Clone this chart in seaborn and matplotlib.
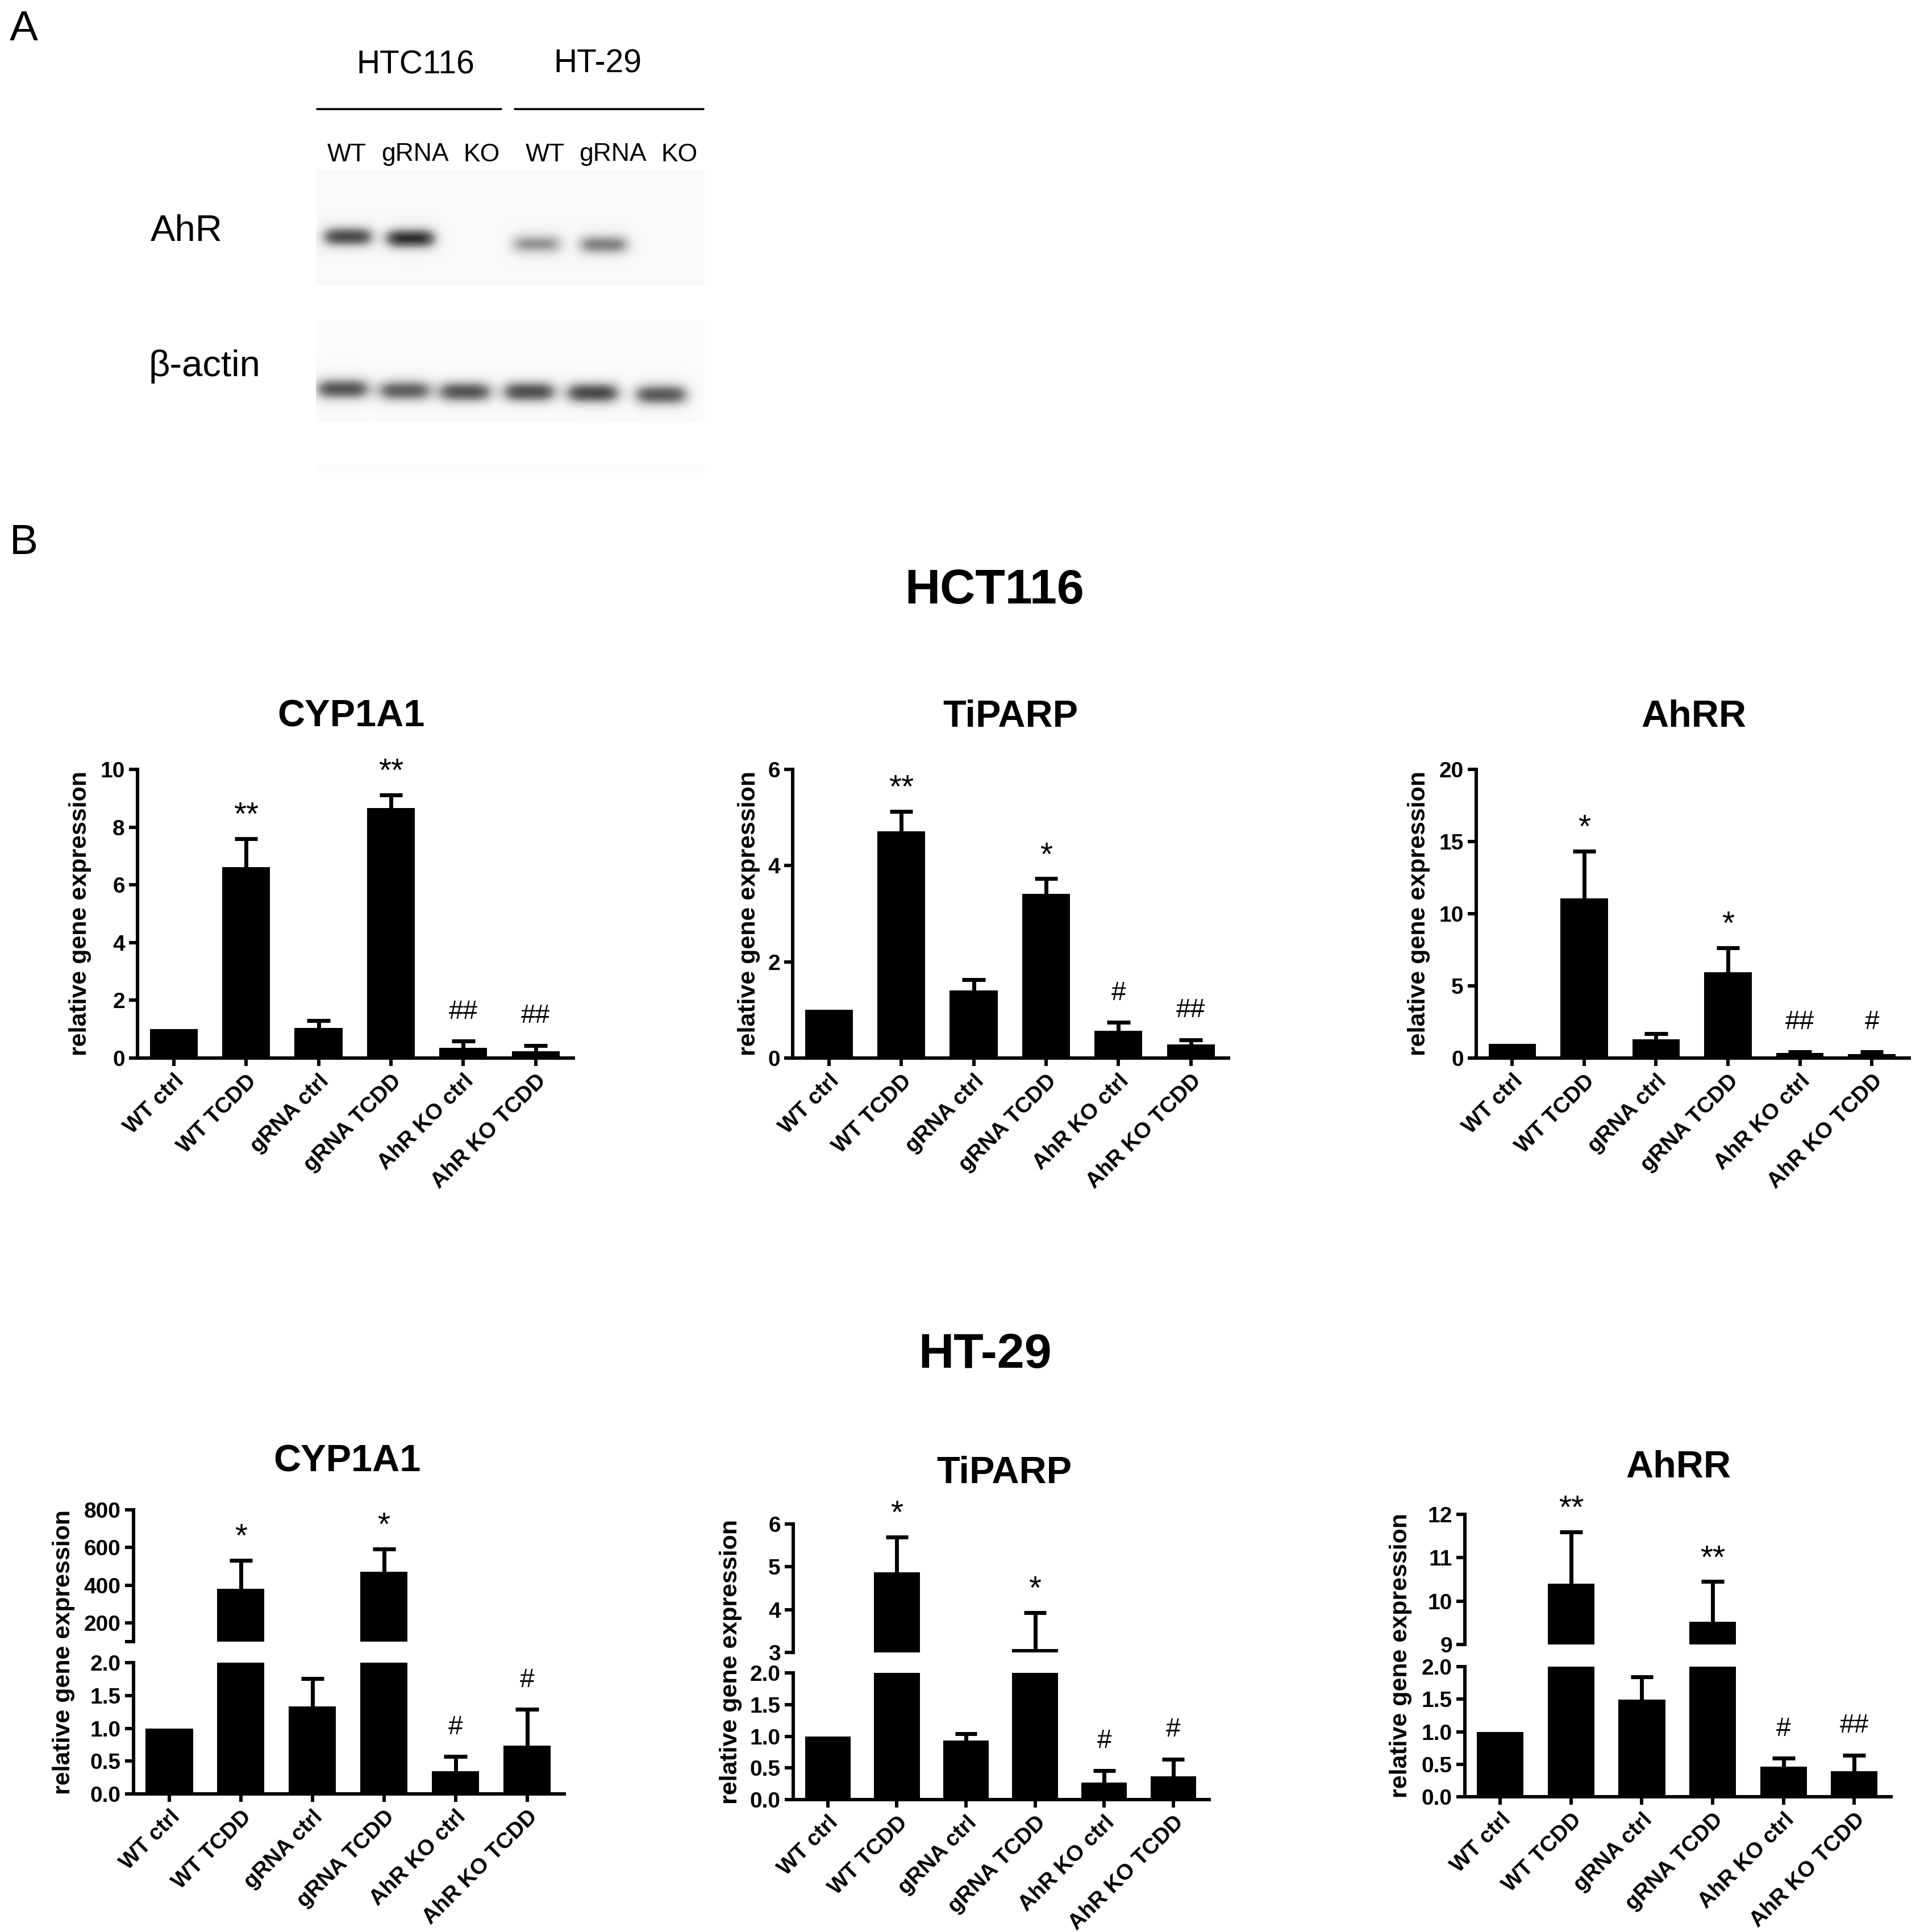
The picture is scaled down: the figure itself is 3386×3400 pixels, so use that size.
import numpy as np
import pandas as pd
import matplotlib
matplotlib.use("Agg")
import matplotlib.pyplot as plt
from matplotlib.lines import Line2D
import seaborn as sns

# ------------------------------------------------------------------ data
categories = ["WT ctrl", "WT TCDD", "gRNA ctrl", "gRNA TCDD", "AhR KO ctrl", "AhR KO TCDD"]

# HCT116
hct_cyp1a1_mean = [1.00, 6.62, 1.05, 8.66, 0.35, 0.23]
hct_cyp1a1_sem = [0.00, 0.98, 0.24, 0.46, 0.24, 0.21]
hct_cyp1a1_sig = ["", "**", "", "**", "##", "##"]

hct_tiparp_mean = [1.00, 4.71, 1.40, 3.41, 0.57, 0.28]
hct_tiparp_sem = [0.00, 0.42, 0.23, 0.32, 0.17, 0.10]
hct_tiparp_sig = ["", "**", "", "*", "#", "##"]

hct_ahrr_mean = [1.00, 11.05, 1.28, 5.96, 0.37, 0.28]
hct_ahrr_sem = [0.00, 3.30, 0.40, 1.69, 0.08, 0.17]
hct_ahrr_sig = ["", "*", "", "*", "##", "#"]

# HT-29
ht_cyp1a1_mean = [1.00, 380.0, 1.33, 470.0, 0.35, 0.74]
ht_cyp1a1_sem = [0.00, 152.0, 0.43, 123.0, 0.22, 0.55]
ht_cyp1a1_sig = ["", "*", "", "*", "#", "#"]

ht_tiparp_mean = [1.00, 4.87, 0.93, 3.08, 0.27, 0.37]
ht_tiparp_sem = [0.00, 0.83, 0.11, 0.85, 0.19, 0.27]
ht_tiparp_sig = ["", "*", "", "*", "#", "#"]

ht_ahrr_mean = [1.00, 10.40, 1.49, 9.53, 0.46, 0.39]
ht_ahrr_sem = [0.00, 1.20, 0.35, 0.92, 0.13, 0.25]
ht_ahrr_sig = ["", "**", "", "**", "#", "##"]

# western blot (panel A): relative band darkness per lane
blot_groups = ["HTC116", "HT-29"]
blot_lanes = ["WT", "gRNA", "KO", "WT", "gRNA", "KO"]
ahr_band = [0.72, 0.80, 0.00, 0.45, 0.52, 0.00]
actin_band = [0.70, 0.66, 0.70, 0.72, 0.74, 0.68]

# ------------------------------------------------------------------ style
sns.set_theme(style="ticks")
plt.rcParams["font.family"] = ["Liberation Sans", "DejaVu Sans"]
plt.rcParams.update({
    "axes.edgecolor": "black", "xtick.color": "black", "ytick.color": "black",
    "text.color": "black", "axes.labelcolor": "black",
})

W, H = 3387, 3400
fig = plt.figure(figsize=(W / 100, H / 100), dpi=100)
fig.patch.set_facecolor("white")


def add_ax(l, t, r, b):
    return fig.add_axes([l / W, 1 - b / H, (r - l) / W, (b - t) / H])


def ftext(x, y, s, **kw):
    fig.text(x / W, 1 - y / H, s, **kw)


def hline(x0, x1, y, lw):
    fig.add_artist(Line2D([x0 / W, x1 / W], [1 - y / H, 1 - y / H], color="black", lw=lw))


# ------------------------------------------------------------------ panel A
ftext(17, 17, "A", fontsize=54, ha="left", va="top")
ftext(731, 115, blot_groups[0], fontsize=41, ha="center", va="center")
ftext(1052, 113, blot_groups[1], fontsize=41, ha="center", va="center")
hline(558, 882, 192, 2.6)
hline(906, 1238, 192, 2.6)
lane_label_x = [610, 730, 848, 959, 1078, 1196]
for lx, lab in zip(lane_label_x, blot_lanes):
    ftext(lx, 272, lab, fontsize=32, ha="center", va="center")
ftext(265, 407, "AhR", fontsize=47, ha="left", va="center")
ftext(262, 645, "β-actin", fontsize=47, ha="left", va="center")


def draw_blot(box, band_x, band_y, levels, halfw=46, sig_y=13, bg=0.05):
    x0, y0, x1, y1 = box
    ax = add_ax(x0, y0, x1, y1)
    X, Y = np.meshgrid(np.arange(x0, x1), np.arange(y0, y1))
    img = np.full(X.shape, bg, dtype=float)
    for bx, by, lv in zip(band_x, band_y, levels):
        img += lv * np.exp(-np.abs((X - bx) / halfw) ** 4) * np.exp(-0.5 * ((Y - by) / sig_y) ** 2)
    ax.imshow(np.clip(img, 0, 1), cmap="Greys", vmin=0, vmax=1,
              extent=(x0, x1, y1, y0), aspect="auto", interpolation="bilinear")
    ax.set_xlim(x0, x1)
    ax.set_ylim(y1, y0)
    ax.set_axis_off()


draw_blot((556, 298, 1240, 502), [612, 722, 840, 944, 1062, 1196],
          [416, 419, 419, 429, 430, 430], ahr_band)
draw_blot((556, 564, 1240, 743), [603, 712, 818, 931, 1043, 1163],
          [684, 687, 689, 689, 691, 694], actin_band, halfw=49, sig_y=14, bg=0.035)
draw_blot((556, 818, 1240, 832), [], [], [], bg=0.02)

# ------------------------------------------------------------------ panel B
ftext(17, 921, "B", fontsize=54, ha="left", va="top")
ftext(1750, 1040, "HCT116", fontsize=62, fontweight="bold", ha="center", va="center")
ftext(1734, 2385, "HT-29", fontsize=62, fontweight="bold", ha="center", va="center")

LW = 4.3
XLIM = (-0.5, 5.52)
CAP = 0.16  # half cap width, in category units


def draw_bars(ax, mean, sem):
    df = pd.DataFrame({"group": categories, "value": mean})
    sns.barplot(data=df, x="group", y="value", order=categories, color="black",
                saturation=1, width=0.66, errorbar=None, ax=ax,
                edgecolor="black", linewidth=0)
    idx = np.array([i for i, e in enumerate(sem) if e > 0])
    lo = np.array([mean[i] for i in idx])
    hi = np.array([mean[i] + sem[i] for i in idx])
    ax.vlines(idx, lo, hi, colors="black", lw=5, zorder=3)
    ax.hlines(hi, idx - CAP, idx + CAP, colors="black", lw=5, zorder=3)
    ax.set_xlim(*XLIM)
    ax.set_xlabel("")
    ax.set_ylabel("")
    ax.patch.set_alpha(0)


def style(ax, yticks, ylabels, show_x=True):
    ax.spines["top"].set_visible(False)
    ax.spines["right"].set_visible(False)
    ax.spines["left"].set_linewidth(LW)
    if show_x:
        ax.spines["bottom"].set_linewidth(LW)
        ax.tick_params(axis="x", length=10, width=LW, pad=6)
        ax.set_xticks(range(len(categories)))
        ax.set_xticklabels(categories, rotation=45, ha="right", va="top",
                           rotation_mode="anchor", fontweight="bold", fontsize=28)
    else:
        ax.spines["bottom"].set_visible(False)
        ax.tick_params(axis="x", bottom=False, labelbottom=False)
    ax.tick_params(axis="y", length=11, width=LW, pad=5)
    ax.set_yticks(yticks, ylabels, fontweight="bold", fontsize=28)


def annotate(axes, mean, sem, sig):
    for i, s in enumerate(sig):
        if not s:
            continue
        top = mean[i] + sem[i]
        ax = axes[0]
        for a in axes:
            lo, hi = a.get_ylim()
            if lo <= top <= hi:
                ax = a
        if top > axes[0].get_ylim()[1]:
            ax = axes[-1]
        hashy = "#" in s
        ax.annotate(s, (i, top), xytext=(0, 37 if hashy else 28), textcoords="offset points",
                    ha="center", va="center", fontsize=33 if hashy else 41,
                    annotation_clip=False)


def title(x, y, s):
    ftext(x, y, s, fontsize=48, fontweight="bold", ha="center", va="center")


def ylab(x, y):
    ftext(x, y, "relative gene expression", fontsize=31, fontweight="bold",
          rotation=90, ha="center", va="center")


# ---- top row (HCT116)
top_specs = [
    ((242, 1354, 1009, 1862), hct_cyp1a1_mean, hct_cyp1a1_sem, hct_cyp1a1_sig,
     (0, 10), [0, 2, 4, 6, 8, 10], 618, "CYP1A1", 141),
    ((1395, 1354, 2162, 1862), hct_tiparp_mean, hct_tiparp_sem, hct_tiparp_sig,
     (0, 6), [0, 2, 4, 6], 1778, "TiPARP", 1318),
    ((2598, 1354, 3360, 1862), hct_ahrr_mean, hct_ahrr_sem, hct_ahrr_sig,
     (0, 20), [0, 5, 10, 15, 20], 2981, "AhRR", 2497),
]
for box, m, e, sg, ylim, ticks, tx, tt, lx in top_specs:
    ax = add_ax(*box)
    draw_bars(ax, m, e)
    ax.set_ylim(*ylim)
    style(ax, ticks, [str(t) for t in ticks])
    annotate([ax], m, e, sg)
    title(tx, 1262, tt)
    ylab(lx, (box[1] + box[3]) / 2)

# ---- bottom row (HT-29), broken y axes
bot_specs = [
    ((235, 993), (2657, 2889), (2926, 3157), ht_cyp1a1_mean, ht_cyp1a1_sem, ht_cyp1a1_sig,
     (100, 800), [100, 200, 400, 600, 800], ["", "200", "400", "600", "800"],
     (611, 2572, "CYP1A1"), 112),
    ((1396, 2128), (2682, 2908), (2944, 3167), ht_tiparp_mean, ht_tiparp_sem, ht_tiparp_sig,
     (3, 6), [3, 4, 5, 6], ["3", "4", "5", "6"],
     (1767, 2593, "TiPARP"), 1286),
    ((2578, 3328), (2665, 2894), (2933, 3162), ht_ahrr_mean, ht_ahrr_sem, ht_ahrr_sig,
     (9, 12), [9, 10, 11, 12], ["9", "10", "11", "12"],
     (2954, 2583, "AhRR"), 2465),
]
low_ticks = [0.0, 0.5, 1.0, 1.5, 2.0]
for (l, r), (ut, ub), (lt, lb), m, e, sg, ulim, uticks, ulabels, (tx, ty, tt), lx in bot_specs:
    ax_up = add_ax(l, ut, r, ub)
    ax_lo = add_ax(l, lt, r, lb)
    draw_bars(ax_up, m, e)
    draw_bars(ax_lo, m, e)
    ax_up.set_ylim(*ulim)
    ax_lo.set_ylim(0, 2)
    style(ax_up, uticks, ulabels, show_x=False)
    style(ax_lo, low_ticks, [f"{t:.1f}" for t in low_ticks])
    annotate([ax_lo, ax_up], m, e, sg)
    title(tx, ty, tt)
    ylab(lx, (ut + lb) / 2)

fig.savefig("out.png", dpi=100, facecolor="white")
